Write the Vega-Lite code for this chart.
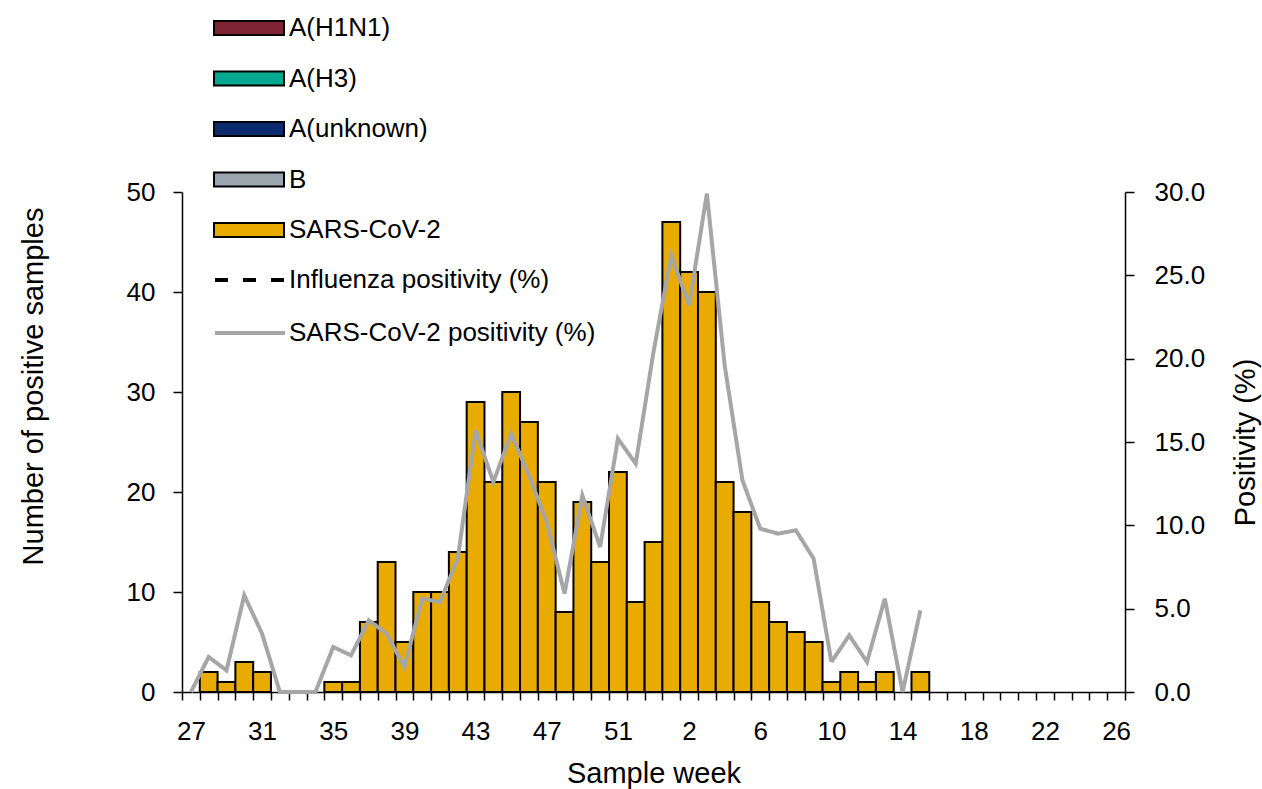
{
  "$schema": "https://vega.github.io/schema/vega-lite/v6.json",
  "autosize": {"type": "none"},
  "padding": {"left": 182, "top": 192, "right": 137, "bottom": 97},
  "width": 943,
  "height": 500,
  "background": "white",
  "config": {
    "view": {"stroke": null},
    "font": "Liberation Sans",
    "axis": {"labelFont": "Liberation Sans", "titleFont": "Liberation Sans", "labelColor": "black", "titleColor": "black", "titleFontWeight": "normal", "domainColor": "black", "tickColor": "black", "grid": false}
  },
  "data": {
    "values": [
      {"week": "27", "n": 0, "pos": 0},
      {"week": "28", "n": 2, "pos": 2.1},
      {"week": "29", "n": 1, "pos": 1.3},
      {"week": "30", "n": 3, "pos": 5.8},
      {"week": "31", "n": 2, "pos": 3.5},
      {"week": "32", "n": 0, "pos": 0},
      {"week": "33", "n": 0, "pos": 0},
      {"week": "34", "n": 0, "pos": 0},
      {"week": "35", "n": 1, "pos": 2.7},
      {"week": "36", "n": 1, "pos": 2.2},
      {"week": "37", "n": 7, "pos": 4.3},
      {"week": "38", "n": 13, "pos": 3.5},
      {"week": "39", "n": 5, "pos": 1.5},
      {"week": "40", "n": 10, "pos": 5.6},
      {"week": "41", "n": 10, "pos": 5.4},
      {"week": "42", "n": 14, "pos": 8.0},
      {"week": "43", "n": 29, "pos": 15.7},
      {"week": "44", "n": 21, "pos": 12.6},
      {"week": "45", "n": 30, "pos": 15.5},
      {"week": "46", "n": 27, "pos": 13.0},
      {"week": "47", "n": 21, "pos": 10.2},
      {"week": "48", "n": 8, "pos": 5.9},
      {"week": "49", "n": 19, "pos": 11.8},
      {"week": "50", "n": 13, "pos": 8.7},
      {"week": "51", "n": 22, "pos": 15.2},
      {"week": "52", "n": 9, "pos": 13.7},
      {"week": "53", "n": 15, "pos": 20.4},
      {"week": "1", "n": 47, "pos": 26.2},
      {"week": "2", "n": 42, "pos": 23.2},
      {"week": "3", "n": 40, "pos": 29.9},
      {"week": "4", "n": 21, "pos": 19.6},
      {"week": "5", "n": 18, "pos": 12.7},
      {"week": "6", "n": 9, "pos": 9.8},
      {"week": "7", "n": 7, "pos": 9.5},
      {"week": "8", "n": 6, "pos": 9.7},
      {"week": "9", "n": 5, "pos": 8.0},
      {"week": "10", "n": 1, "pos": 1.8},
      {"week": "11", "n": 2, "pos": 3.4},
      {"week": "12", "n": 1, "pos": 1.8},
      {"week": "13", "n": 2, "pos": 5.6},
      {"week": "14", "n": 0, "pos": 0},
      {"week": "15", "n": 2, "pos": 4.9}
    ]
  },
  "encoding": {
    "x": {
      "field": "week",
      "type": "nominal",
      "sort": null,
      "scale": {
        "domain": ["27","28","29","30","31","32","33","34","35","36","37","38","39","40","41","42","43","44","45","46","47","48","49","50","51","52","53","1","2","3","4","5","6","7","8","9","10","11","12","13","14","15","16","17","18","19","20","21","22","23","24","25","26"],
        "paddingInner": 0,
        "paddingOuter": 0
      },
      "axis": {
        "title": "Sample week",
        "tickBand": "extent",
        "labelAngle": 0,
        "labelExpr": "indexof(['27','31','35','39','43','47','51','2','6','10','14','18','22','26'], datum.label) >= 0 ? datum.label : ''",
        "labelFontSize": 26,
        "labelPadding": 18,
        "tickSize": 8,
        "tickWidth": 1.5,
        "domainWidth": 1.5,
        "titleFontSize": 29,
        "titlePadding": 15
      }
    }
  },
  "layer": [
    {
      "transform": [{"filter": "datum.n > 0"}],
      "mark": {"type": "bar", "stroke": "black", "strokeWidth": 2},
      "encoding": {
        "y": {
          "field": "n",
          "type": "quantitative",
          "scale": {"domain": [0, 50]},
          "axis": {
            "title": "Number of positive samples",
            "values": [0, 10, 20, 30, 40, 50],
            "labelFontSize": 26,
            "labelPadding": 18,
            "tickSize": 9,
            "tickWidth": 1.5,
            "domainWidth": 1.5,
            "titleFontSize": 29,
            "titlePadding": 78,
            "titleY": 194
          }
        },
        "fill": {
          "datum": "SARS-CoV-2",
          "scale": {
            "domain": ["A(H1N1)", "A(H3)", "A(unknown)", "B", "SARS-CoV-2"],
            "range": ["#7D2333", "#00A88F", "#0C2A6E", "#9BA6AF", "#EAAB00"]
          },
          "legend": {
            "title": null,
            "orient": "none",
            "legendX": 31,
            "legendY": -200,
            "symbolType": "M-1,-0.2H1V0.2H-1Z",
            "symbolSize": 4900,
            "symbolStrokeColor": "black",
            "symbolStrokeWidth": 2,
            "labelFont": "Liberation Sans",
            "labelFontSize": 26,
            "labelColor": "black",
            "labelOffset": 4,
            "labelLimit": 500,
            "rowPadding": 1.5
          }
        }
      }
    },
    {
      "mark": {"type": "line", "strokeWidth": 4},
      "encoding": {
        "y": {
          "field": "pos",
          "type": "quantitative",
          "scale": {"domain": [0, 30]},
          "axis": {
            "title": "Positivity (%)",
            "orient": "right",
            "values": [0, 5, 10, 15, 20, 25, 30],
            "format": ".1f",
            "labelFontSize": 26,
            "labelPadding": 20,
            "tickSize": 9,
            "tickWidth": 1.5,
            "domainWidth": 1.5,
            "titleFontSize": 29,
            "titleAngle": 270,
            "titleX": 120,
            "titleAlign": "center",
            "titleBaseline": "middle"
          }
        },
        "stroke": {
          "datum": "SARS-CoV-2 positivity (%)",
          "scale": {
            "domain": ["Influenza positivity (%)", "SARS-CoV-2 positivity (%)"],
            "range": ["black", "#A6A6A6"]
          },
          "legend": {
            "title": null,
            "orient": "none",
            "legendX": 31,
            "legendY": 51,
            "symbolType": "M-1,0H1",
            "symbolSize": 4900,
            "symbolStrokeWidth": 4,
            "labelFont": "Liberation Sans",
            "labelFontSize": 26,
            "labelColor": "black",
            "labelOffset": 2,
            "labelLimit": 500,
            "rowPadding": 3
          }
        },
        "strokeDash": {
          "datum": "SARS-CoV-2 positivity (%)",
          "scale": {
            "domain": ["Influenza positivity (%)", "SARS-CoV-2 positivity (%)"],
            "range": [[13, 15], [1, 0]]
          },
          "legend": {
            "title": null,
            "orient": "none",
            "legendX": 31,
            "legendY": 51,
            "symbolType": "M-1,0H1",
            "symbolSize": 4900,
            "symbolStrokeWidth": 4,
            "labelFont": "Liberation Sans",
            "labelFontSize": 26,
            "labelColor": "black",
            "labelOffset": 2,
            "labelLimit": 500,
            "rowPadding": 3
          }
        }
      }
    }
  ],
  "resolve": {"scale": {"y": "independent"}}
}
